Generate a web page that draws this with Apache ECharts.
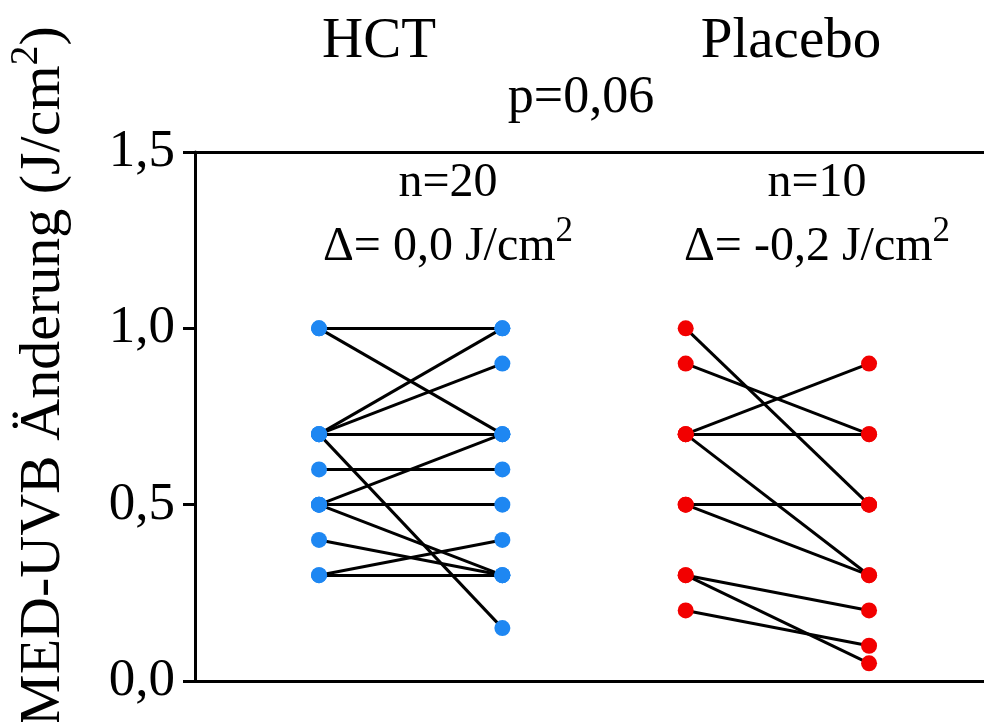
<!DOCTYPE html>
<html>
<head>
<meta charset="utf-8">
<script src="https://cdn.jsdelivr.net/npm/echarts@6/dist/echarts.min.js"></script>
<style>
  html, body { margin: 0; padding: 0; background: #fff; }
  #chart { width: 984px; height: 722px; }
</style>
</head>
<body>
<div id="chart"></div>
<script>
// Groups and their before/after positions on the hidden x axis
const groups = ['HCT', 'Placebo'];
const groupPositions = [[1, 2], [3, 4]];

// Paired MED-UVB values (J/cm²), left column -> right column
const hctBefore = [1.0, 1.0, 0.7, 0.7, 0.7, 0.7, 0.6, 0.5, 0.5, 0.5, 0.4, 0.3, 0.3];
const hctAfter  = [1.0, 0.7, 1.0, 0.9, 0.7, 0.15, 0.6, 0.7, 0.5, 0.3, 0.3, 0.4, 0.3];
const placeboBefore = [1.0, 0.9, 0.7, 0.7, 0.7, 0.5, 0.5, 0.3, 0.3, 0.2];
const placeboAfter  = [0.5, 0.7, 0.9, 0.7, 0.3, 0.5, 0.3, 0.2, 0.05, 0.1];

// Annotations
const nLabels = ['n=20', 'n=10'];
const deltaLabels = ['Δ= 0,0 J/cm', 'Δ= -0,2 J/cm'];
const pLabel = 'p=0,06';
const yTickValues = [0, 0.5, 1.0, 1.5];
const yTitle = 'MED-UVB Änderung (J/cm';

const FONT = '"Liberation Serif", "Times New Roman", serif';
const BLUE = '#1E87F2';
const RED = '#F20000';

function pairs(before, after, pos) {
  return before.map((v, i) => ({ coords: [[pos[0], v], [pos[1], after[i]]] }));
}
function dots(before, after, pos) {
  return before.map(v => [pos[0], v]).concat(after.map(v => [pos[1], v]));
}

const chart = echarts.init(document.getElementById('chart'), null, { renderer: 'canvas' });

const axisLine = { show: true, onZero: false, lineStyle: { color: '#000', width: 3 } };

const option = {
  animation: false,
  backgroundColor: '#fff',
  grid: { left: 195, right: 0, top: 152, bottom: 41, containLabel: false },
  xAxis: [
    { type: 'value', position: 'bottom', min: 0.3236, max: 4.627,
      axisLine: axisLine, axisTick: { show: false }, axisLabel: { show: false }, splitLine: { show: false } },
    { type: 'value', position: 'top', min: 0.3236, max: 4.627,
      axisLine: axisLine, axisTick: { show: false }, axisLabel: { show: false }, splitLine: { show: false } }
  ],
  yAxis: {
    type: 'value', min: 0, max: 1.5, interval: 0.5,
    axisLine: axisLine,
    axisTick: { show: true, length: 12, lineStyle: { color: '#000', width: 3 } },
    splitLine: { show: false },
    axisLabel: {
      margin: 20, color: '#000', fontFamily: FONT, fontSize: 53,
      formatter: v => yTickValues.indexOf(v) >= 0 ? v.toFixed(1).replace('.', ',') : ''
    }
  },
  series: [
    { type: 'lines', coordinateSystem: 'cartesian2d', xAxisIndex: 0, yAxisIndex: 0, silent: true, z: 2,
      lineStyle: { color: '#000', width: 3, opacity: 1, curveness: 0 },
      data: pairs(hctBefore, hctAfter, groupPositions[0]).concat(pairs(placeboBefore, placeboAfter, groupPositions[1])) },
    { type: 'scatter', name: groups[0], xAxisIndex: 0, z: 3, symbol: 'circle', symbolSize: 16,
      itemStyle: { color: BLUE, opacity: 1 }, data: dots(hctBefore, hctAfter, groupPositions[0]) },
    { type: 'scatter', name: groups[1], xAxisIndex: 0, z: 3, symbol: 'circle', symbolSize: 16,
      itemStyle: { color: RED, opacity: 1 }, data: dots(placeboBefore, placeboAfter, groupPositions[1]) }
  ],
  graphic: [
    { type: 'text', x: 379, y: 42, style: { text: groups[0], font: '57px ' + FONT, fill: '#000', align: 'center', verticalAlign: 'middle' } },
    { type: 'text', x: 791, y: 42, style: { text: groups[1], font: '57px ' + FONT, fill: '#000', align: 'center', verticalAlign: 'middle' } },
    { type: 'text', x: 581, y: 98, style: { text: pLabel, font: '52px ' + FONT, fill: '#000', align: 'center', verticalAlign: 'middle' } },
    { type: 'text', x: 448, y: 183, style: { text: nLabels[0], font: '48px ' + FONT, fill: '#000', align: 'center', verticalAlign: 'middle' } },
    { type: 'text', x: 817, y: 183, style: { text: nLabels[1], font: '48px ' + FONT, fill: '#000', align: 'center', verticalAlign: 'middle' } },
    { type: 'text', x: 448, y: 247, style: {
        text: '{m|' + deltaLabels[0] + '}{s|2}', align: 'center', verticalAlign: 'middle', fill: '#000',
        rich: { m: { fontFamily: FONT, fontSize: 48, color: '#000', lineHeight: 66 },
                s: { fontFamily: FONT, fontSize: 35, color: '#000', verticalAlign: 'top' } } } },
    { type: 'text', x: 817, y: 247, style: {
        text: '{m|' + deltaLabels[1] + '}{s|2}', align: 'center', verticalAlign: 'middle', fill: '#000',
        rich: { m: { fontFamily: FONT, fontSize: 48, color: '#000', lineHeight: 66 },
                s: { fontFamily: FONT, fontSize: 35, color: '#000', verticalAlign: 'top' } } } },
    { type: 'text', x: 44, y: 376, rotation: Math.PI / 2, style: {
        text: '{m|' + yTitle + '}{s|2}{m|)}', align: 'center', verticalAlign: 'middle', fill: '#000',
        rich: { m: { fontFamily: FONT, fontSize: 58, color: '#000', lineHeight: 76 },
                s: { fontFamily: FONT, fontSize: 40, color: '#000', verticalAlign: 'top' } } } }
  ]
};

chart.setOption(option);
</script>
</body>
</html>
